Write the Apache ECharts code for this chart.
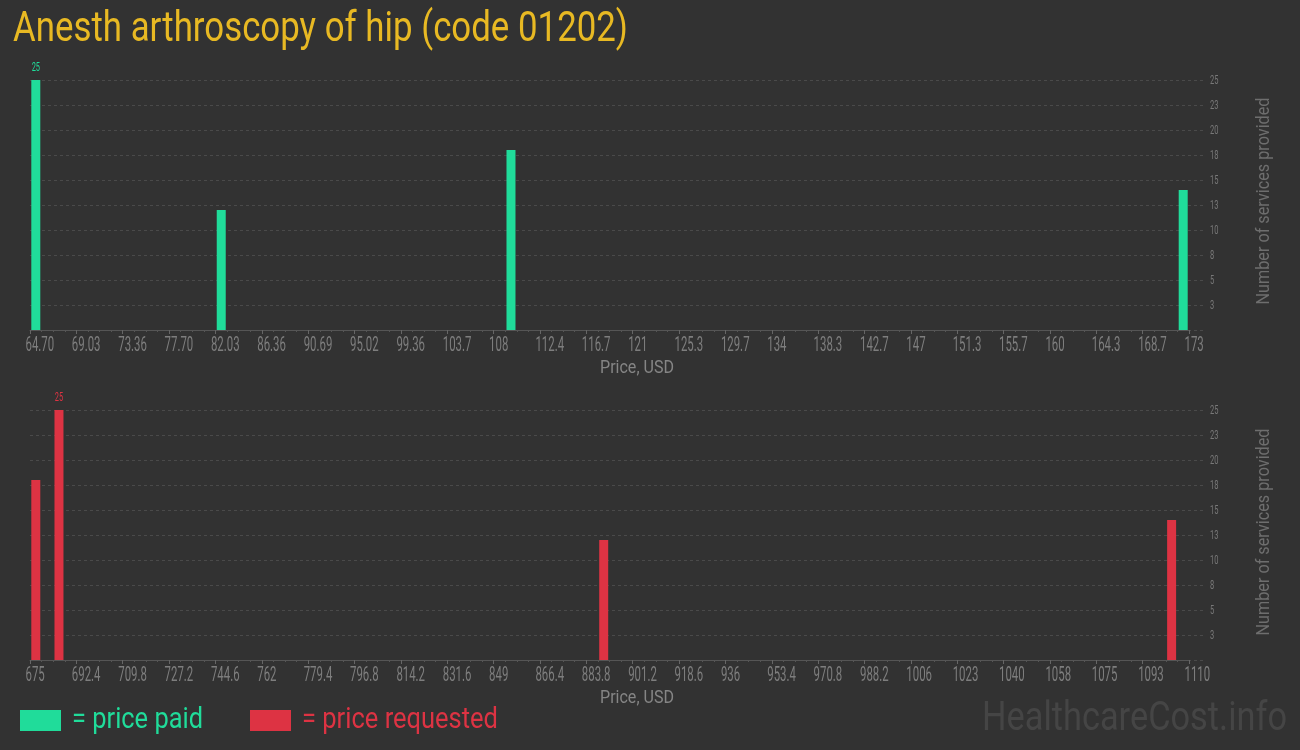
<!DOCTYPE html>
<html>
<head>
<meta charset="utf-8">
<script src="https://cdn.jsdelivr.net/npm/echarts@6/dist/echarts.min.js"></script>
<style>
html,body{margin:0;padding:0;background:#323232;}
#chart{width:1300px;height:750px;}
</style>
</head>
<body>
<div id="chart"></div>
<script>
// ---- data ----
const titleText = "Anesth arthroscopy of hip (code 01202)";
const topTickLabels = ["64.70","69.03","73.36","77.70","82.03","86.36","90.69","95.02","99.36","103.7","108","112.4","116.7","121","125.3","129.7","134","138.3","142.7","147","151.3","155.7","160","164.3","168.7","173"];
const bottomTickLabels = ["675","692.4","709.8","727.2","744.6","762","779.4","796.8","814.2","831.6","849","866.4","883.8","901.2","918.6","936","953.4","970.8","988.2","1006","1023","1040","1058","1075","1093","1110"];
// histogram bins (index of the bin, 100 bins between first and last tick) and counts
const paidBins = [0, 16, 41, 99];
const paidCounts = [25, 12, 18, 14];
const requestedBins = [0, 2, 49, 98];
const requestedCounts = [18, 25, 12, 14];
const yTickValues = [2.5, 5, 7.5, 10, 12.5, 15, 17.5, 20, 22.5, 25];
const yTickLabels = ["3", "5", "8", "10", "13", "15", "18", "20", "23", "25"];
const yMax = 25;
const yStep = 2.5;
const binCount = 100;
const binsPerTick = 4;

// ---- styling ----
const GREEN = "#20dc9a";
const RED = "#dd3343";
const BG = "#323232";
const COND = 0.57; // horizontal squeeze imitating a condensed face

const mctx = document.createElement('canvas').getContext('2d');
function fitScale(text, size, family, target) {
  mctx.font = size + "px " + family;
  const w = mctx.measureText(text).width;
  return w > 0 ? target / w : 1;
}
function condText(text, x, y, size, color, target, align, rotation) {
  const s = fitScale(text, size, "Roboto", target);
  return {
    type: 'text', x: x, y: y, rotation: rotation || 0, scaleX: s, scaleY: 1,
    silent: true,
    style: { text: text, fill: color, fontSize: size, fontFamily: 'Roboto',
             align: align || 'left', verticalAlign: 'middle' }
  };
}

function barData(bins, counts) {
  return bins.map((b, i) => [b + 0.5, counts[i]]);
}

function gridAxisY(idx) {
  return {
    gridIndex: idx, type: 'value', position: 'right', min: 0, max: yMax, interval: yStep,
    axisLine: { show: false }, axisTick: { show: false }, axisLabel: { show: false },
    splitLine: { show: true, lineStyle: { color: '#4a4a4a', type: [3, 3], width: 1 } }
  };
}
function barAxisX(idx) {
  return {
    gridIndex: idx, type: 'value', min: 0, max: binCount, interval: binsPerTick,
    axisLine: { show: true, lineStyle: { color: '#555555', width: 1 } },
    axisTick: { show: true, length: 4, lineStyle: { color: '#666666' } },
    minorTick: { show: true, splitNumber: 4, length: 2, lineStyle: { color: '#555555' } },
    splitLine: { show: false }, minorSplitLine: { show: false },
    axisLabel: { show: false }
  };
}

// x tick labels drawn at the axis's own tick positions
function xTickLabelSeries(axisIdx, labels) {
  return {
    type: 'custom', xAxisIndex: axisIdx, yAxisIndex: axisIdx, silent: true, clip: false,
    data: labels.map((t, k) => [k * binsPerTick, 0]),
    renderItem: function (params, api) {
      const p = api.coord([api.value(0), 0]);
      return { type: 'text', x: p[0] - 4.5, y: p[1] + 16, scaleX: COND,
               style: { text: labels[params.dataIndex], fill: '#7e7e7e', fontFamily: 'Roboto',
                        fontSize: 20, align: 'left', verticalAlign: 'middle' } };
    }
  };
}
// y tick labels drawn at the right edge of the grid-line grid
function yTickLabelSeries(axisIdx) {
  return {
    type: 'custom', xAxisIndex: axisIdx, yAxisIndex: axisIdx, silent: true, clip: false,
    data: yTickValues.map(v => [1, v]),
    renderItem: function (params, api) {
      const p = api.coord([1, api.value(1)]);
      return { type: 'text', x: p[0] + 5, y: p[1] + 0.5, scaleX: 0.6,
               style: { text: yTickLabels[params.dataIndex], fill: '#787878', fontFamily: 'Roboto',
                        fontSize: 12.5, align: 'left', verticalAlign: 'middle' } };
    }
  };
}
// value label over the tallest bar
function peakLabelSeries(axisIdx, bins, counts, color) {
  const mx = Math.max.apply(null, counts);
  return {
    type: 'custom', xAxisIndex: axisIdx, yAxisIndex: axisIdx, silent: true, clip: false,
    data: barData(bins, counts).filter(d => d[1] === mx),
    renderItem: function (params, api) {
      const p = api.coord([api.value(0), api.value(1)]);
      return { type: 'text', x: p[0], y: p[1] - 12, scaleX: COND,
               style: { text: String(api.value(1)), fill: color, fontFamily: 'Roboto',
                        fontSize: 13, align: 'center', verticalAlign: 'middle' } };
    }
  };
}

const chart = echarts.init(document.getElementById('chart'), null, { renderer: 'canvas' });
const option = {
  backgroundColor: BG,
  animation: false,
  grid: [
    { left: 30, top: 80, width: 1175, height: 250 },
    { left: 30, top: 80, width: 1159, height: 250 },
    { left: 30, top: 410, width: 1175, height: 250 },
    { left: 30, top: 410, width: 1159, height: 250 }
  ],
  xAxis: [
    { gridIndex: 0, type: 'value', show: false, min: 0, max: 1 },
    barAxisX(1),
    { gridIndex: 2, type: 'value', show: false, min: 0, max: 1 },
    barAxisX(3)
  ],
  yAxis: [
    gridAxisY(0),
    { gridIndex: 1, type: 'value', show: false, min: 0, max: yMax },
    gridAxisY(2),
    { gridIndex: 3, type: 'value', show: false, min: 0, max: yMax }
  ],
  series: [
    { type: 'bar', name: 'price paid', xAxisIndex: 1, yAxisIndex: 1, barWidth: 9,
      itemStyle: { color: GREEN }, data: barData(paidBins, paidCounts) },
    { type: 'bar', name: 'price requested', xAxisIndex: 3, yAxisIndex: 3, barWidth: 9,
      itemStyle: { color: RED }, data: barData(requestedBins, requestedCounts) },
    peakLabelSeries(1, paidBins, paidCounts, GREEN),
    peakLabelSeries(3, requestedBins, requestedCounts, RED),
    xTickLabelSeries(1, topTickLabels),
    xTickLabelSeries(3, bottomTickLabels),
    yTickLabelSeries(0),
    yTickLabelSeries(2)
  ],
  graphic: [
    condText(titleText, 13, 30, 42, '#e8b923', 615, 'left'),
    condText('Price, USD', 637, 368, 18, '#858585', 74, 'center'),
    condText('Price, USD', 637, 698, 18, '#858585', 74, 'center'),
    condText('Number of services provided', 1264, 201, 19, '#6e6e6e', 207, 'center', Math.PI / 2),
    condText('Number of services provided', 1264, 532, 19, '#6e6e6e', 207, 'center', Math.PI / 2),
    { type: 'rect', shape: { x: 20, y: 710, width: 41, height: 21 }, style: { fill: GREEN }, silent: true },
    condText('= price paid', 72, 720, 30, GREEN, 131, 'left'),
    { type: 'rect', shape: { x: 250, y: 710, width: 41, height: 21 }, style: { fill: RED }, silent: true },
    condText('= price requested', 302, 720, 30, RED, 196, 'left'),
    condText('HealthcareCost.info', 982, 720, 41, '#454545', 305, 'left')
  ]
};
chart.setOption(option);
</script>
</body>
</html>
